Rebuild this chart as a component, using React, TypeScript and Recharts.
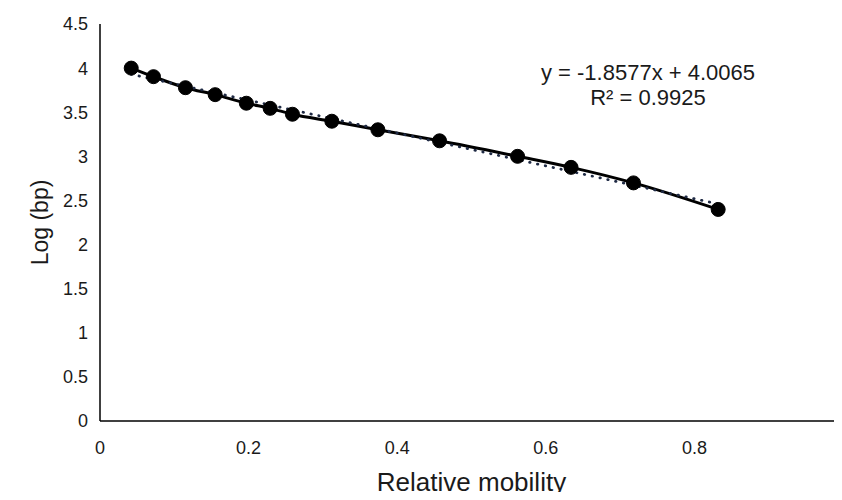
import React from "react"
import { ComposedChart, Line, XAxis, YAxis, Label } from "recharts"

// relative mobility of each ladder band and log10 of its size (1 kb ladder)
const mobility = [0.042, 0.072, 0.115, 0.155, 0.197, 0.229, 0.259, 0.312, 0.374, 0.457, 0.562, 0.634, 0.718, 0.832]
const logBp = [4.0, 3.903, 3.778, 3.699, 3.602, 3.544, 3.477, 3.398, 3.301, 3.176, 3.0, 2.875, 2.699, 2.398]

// linear trendline ends, as drawn
const trendX = [0.042, 0.832]
const trendY = [3.93, 2.46]

const xTicks = [0, 0.2, 0.4, 0.6, 0.8, 1]
const yTicks = [0, 0.5, 1, 1.5, 2, 2.5, 3, 3.5, 4, 4.5]

const equation = "y = -1.8577x + 4.0065"
const rSquared = "R² = 0.9925"

const points = mobility.map((x, i) => ({ x, y: logBp[i] }))
const trend = trendX.map((x, i) => ({ x, t: trendY[i] }))

const font = "'Liberation Sans', Arial, sans-serif"
const ink = "#1a1a1a"

const YTitle = (props: any) => {
  const vb = props.viewBox || { x: 0, y: 24, width: 100, height: 397 }
  const cx = vb.x + 40
  const cy = vb.y + vb.height / 2
  return (
    <text x={cx} y={cy} transform={`rotate(-90 ${cx} ${cy})`} textAnchor="middle" dominantBaseline="central" fontSize={23} fill={ink} fontFamily={font}>
      Log (bp)
    </text>
  )
}

export default function App() {
  return (
    <div style={{ margin: -8, width: 842, height: 500, overflow: "hidden", background: "#fff" }}>
      <ComposedChart width={844} height={500} margin={{ top: 24, right: 1, bottom: 0, left: 0 }} style={{ fontFamily: font }}>
        <XAxis
          type="number"
          dataKey="x"
          domain={[0, 1]}
          ticks={xTicks}
          height={79}
          stroke="#000"
          strokeWidth={1.5}
          tickLine={false}
          tickSize={8}
          tickMargin={12}
          tick={{ fill: ink, fontSize: 18 }}
          allowDataOverflow
        >
          <Label value="Relative mobility" position="insideBottom" offset={9} fill={ink} fontSize={26} />
        </XAxis>
        <YAxis
          type="number"
          domain={[0, 4.5]}
          ticks={yTicks}
          width={100}
          stroke="#000"
          strokeWidth={1.5}
          tickLine={false}
          tickSize={6}
          tickMargin={6}
          tick={{ fill: ink, fontSize: 18 }}
        >
          <Label content={<YTitle />} />
        </YAxis>
        <Line
          data={points}
          type="monotone"
          dataKey="y"
          stroke="#000"
          strokeWidth={3}
          dot={{ r: 7, fill: "#000", stroke: "#000", strokeWidth: 1 }}
          activeDot={false}
          isAnimationActive={false}
        />
        <Line
          data={trend}
          type="linear"
          dataKey="t"
          stroke="#1f2a44"
          strokeWidth={2.75}
          strokeDasharray="0.5 7.5"
          strokeLinecap="round"
          dot={false}
          activeDot={false}
          isAnimationActive={false}
        />
        <text x={648} y={80} textAnchor="middle" fontSize={22} fill={ink} fontFamily={font}>
          {equation}
        </text>
        <text x={648} y={105} textAnchor="middle" fontSize={22} fill={ink} fontFamily={font}>
          {rSquared}
        </text>
      </ComposedChart>
    </div>
  )
}
